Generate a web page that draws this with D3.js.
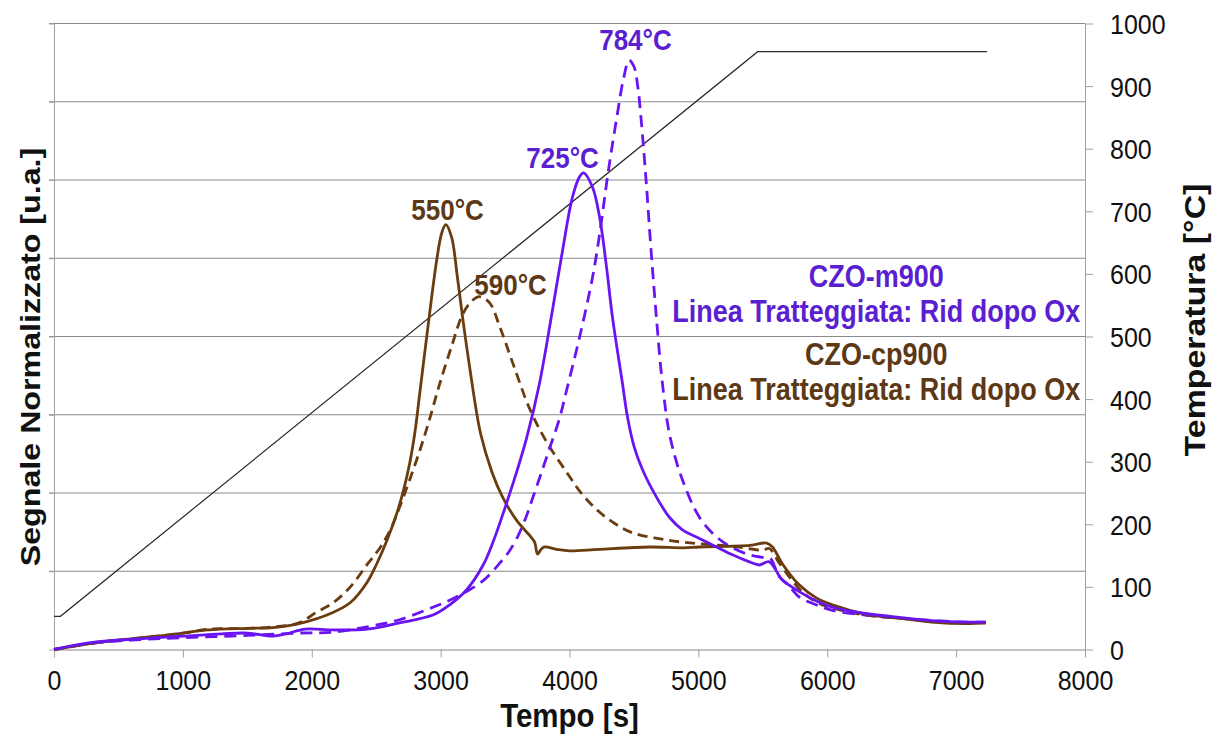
<!DOCTYPE html>
<html>
<head>
<meta charset="utf-8">
<script src="https://cdn.jsdelivr.net/npm/d3@7"></script>
<style>
  body { margin: 0; background: #fff; }
  text { font-family: Arial, "Liberation Sans", sans-serif; }
</style>
</head>
<body>
<svg id="chart" width="1216" height="737"></svg>
<script>
// axis ticks
var timeTicks = [0, 1000, 2000, 3000, 4000, 5000, 6000, 7000, 8000];
var tempTicks = [0, 100, 200, 300, 400, 500, 600, 700, 800, 900, 1000];
var signalTicks = [0, 1, 2, 3, 4, 5, 6, 7, 8];

// CZO-cp900, solid and dashed (Rid dopo Ox), [time s, signal u.a.]
var cpSolid = [[0,0],[250,0.07],[500,0.12],[800,0.17],[1000,0.21],[1200,0.25],[1500,0.27],[1700,0.28],
  [1900,0.33],[2160,0.47],[2300,0.60],[2430,0.86],[2500,1.08],[2580,1.38],[2660,1.74],[2710,2.02],
  [2760,2.38],[2800,2.77],[2840,3.3],[2915,4.3],[2970,4.98],[3008,5.32],[3040,5.43],[3085,5.27],
  [3130,4.76],[3170,4.25],[3225,3.61],[3310,2.76],[3400,2.26],[3480,1.95],[3590,1.65],[3700,1.44],
  [3730,1.37],[3752,1.22],[3780,1.28],[3806,1.31],[3900,1.28],[4000,1.26],[4230,1.28],[4620,1.31],
  [4880,1.30],[5010,1.31],[5400,1.33],[5530,1.36],[5575,1.31],[5650,1.1],[5780,0.83],[5915,0.66],
  [6040,0.57],[6300,0.45],[6560,0.40],[6810,0.35],[7080,0.33],[7230,0.34]];

var cpDashed = [[0,0],[250,0.07],[500,0.12],[800,0.17],[1000,0.21],[1200,0.26],[1500,0.27],[1700,0.29],
  [1900,0.34],[2040,0.48],[2160,0.59],[2300,0.80],[2436,1.1],[2530,1.3],[2610,1.53],[2682,1.82],
  [2760,2.17],[2840,2.55],[2910,2.92],[2990,3.38],[3090,3.9],[3170,4.28],[3240,4.45],[3300,4.51],
  [3380,4.43],[3460,4.12],[3560,3.66],[3690,3.08],[3820,2.66],[3980,2.26],[4100,1.98],[4230,1.76],
  [4360,1.60],[4490,1.49],[4750,1.40],[5010,1.35],[5260,1.32],[5500,1.27],[5550,1.29],[5630,1.1],
  [5780,0.78],[5900,0.62],[6040,0.53],[6300,0.44],[6560,0.40],[6810,0.36],[7080,0.34],[7230,0.34]];

// CZO-m900, solid and dashed
var mSolid = [[0,0],[300,0.09],[600,0.13],[1000,0.17],[1300,0.20],[1500,0.21],[1700,0.17],[1800,0.20],
  [1950,0.26],[2160,0.25],[2430,0.26],[2680,0.34],[2940,0.44],[3070,0.57],[3200,0.76],[3330,1.08],
  [3406,1.37],[3481,1.72],[3590,2.27],[3667,2.70],[3767,3.4],[3868,4.34],[3946,5.1],
  [4023,5.78],[4078,6.04],[4109,6.09],[4178,5.91],[4233,5.53],[4287,4.89],[4333,4.25],[4411,3.4],
  [4450,2.97],[4500,2.60],[4566,2.30],[4674,1.95],[4775,1.69],[4876,1.53],[5008,1.42],[5140,1.31],
  [5264,1.21],[5396,1.12],[5473,1.08],[5550,1.12],[5651,0.89],[5783,0.74],[5915,0.62],[6039,0.54],
  [6300,0.46],[6560,0.41],[6810,0.37],[7080,0.35],[7230,0.35]];

var mDashed = [[0,0],[300,0.08],[600,0.12],[1000,0.15],[1500,0.18],[1900,0.21],[2160,0.22],[2430,0.29],
  [2680,0.38],[2940,0.54],[3070,0.63],[3200,0.74],[3330,0.88],[3457,1.1],[3530,1.25],[3600,1.45],
  [3660,1.68],[3713,1.93],[3780,2.25],[3845,2.57],[3922,2.95],[3977,3.31],[4078,3.99],[4178,4.75],
  [4233,5.3],[4300,6.1],[4367,6.8],[4420,7.3],[4462,7.53],[4500,7.45],[4530,7.19],[4556,6.77],
  [4594,6.0],[4633,5.1],[4674,4.25],[4721,3.4],[4780,2.72],[4876,2.17],[5008,1.69],[5140,1.44],
  [5264,1.30],[5396,1.21],[5527,1.17],[5560,1.16],[5628,0.93],[5700,0.82],[5783,0.67],[5915,0.57],
  [6039,0.50],[6300,0.44],[6560,0.40],[6810,0.37],[7080,0.35],[7230,0.35]];

// temperature ramp [time s, °C]
var temperature = [[0,53],[50,53],[5460,955],[7240,955]];

// peak labels and notes [text, time, signal]
var peakLabels = [["550°C", 3054, 5.49], ["590°C", 3543, 4.53], ["725°C", 3946, 6.15], ["784°C", 4512, 7.66]];
var peakSeries = ["cp", "cp", "m", "m"];
var noteLines = [["CZO-m900", 6380, 4.63], ["Linea Tratteggiata: Rid dopo Ox", 6380, 4.18],
  ["CZO-cp900", 6380, 3.64], ["Linea Tratteggiata: Rid dopo Ox", 6380, 3.19]];
var noteSeries = ["m", "m", "cp", "cp"];

var lineColor = { cp: "#6b3c10", m: "#6a14f2" };
var textColor = { cp: "#5c3815", m: "#5a1fd0" };
var stretch = 1.13;

var svg = d3.select("#chart");
var plot = { left: 54, right: 1085, top: 23.5, bottom: 649.5 };

var x = d3.scaleLinear().domain([0, 8000]).range([plot.left, plot.right]);
var ySig = d3.scaleLinear().domain([0, 8]).range([plot.bottom, plot.top]);
var yTemp = d3.scaleLinear().domain([0, 1000]).range([plot.bottom, plot.top]);

// gridlines
svg.append("g")
    .selectAll("line")
    .data(signalTicks.slice(1))
    .enter()
  .append("line")
    .attr("x1", plot.left - 5)
    .attr("x2", plot.right)
    .attr("y1", d => ySig(d))
    .attr("y2", d => ySig(d))
    .attr("stroke", "#8a8a8a")
    .attr("stroke-width", 1);

// left axis (no labels)
svg.append("g")
    .attr("transform", "translate(" + plot.left + ",0)")
    .call(d3.axisLeft(ySig).tickValues(signalTicks).tickFormat("").tickSize(5).tickSizeOuter(0))
    .call(g => g.selectAll("line, path").attr("stroke", "#a0a0a0"));

// bottom axis
var xAxis = svg.append("g")
    .attr("transform", "translate(0," + plot.bottom + ")")
    .call(d3.axisBottom(x).tickValues(timeTicks).tickFormat(d3.format("d")).tickSize(8).tickSizeOuter(0));
xAxis.selectAll("line, path").attr("stroke", "#a0a0a0");
xAxis.select(".domain").attr("stroke", "#8a8a8a");
xAxis.selectAll("text")
    .attr("y", 40.5 / stretch)
    .attr("dy", 0)
    .attr("transform", "scale(1," + stretch + ")")
    .attr("fill", "#111")
    .style("font-size", "25px");

// right axis
var tAxis = svg.append("g")
    .attr("transform", "translate(" + plot.right + ",0)")
    .call(d3.axisRight(yTemp).tickValues(tempTicks).tickFormat(d3.format("d")).tickSize(8).tickSizeOuter(0));
tAxis.selectAll("line, path").attr("stroke", "#a0a0a0");
tAxis.selectAll("text")
    .attr("x", 25)
    .attr("y", 10 / stretch)
    .attr("dy", 0)
    .attr("transform", "scale(1," + stretch + ")")
    .attr("fill", "#111")
    .style("text-anchor", "start")
    .style("font-size", "25px");

// temperature line
svg.append("path")
    .datum(temperature)
    .attr("fill", "none")
    .attr("stroke", "#2a2a2a")
    .attr("stroke-width", 1.2)
    .attr("d", d3.line().x(d => x(d[0])).y(d => yTemp(d[1])));

var sigLine = d3.line()
    .curve(d3.curveCatmullRom.alpha(0.5))
    .x(d => x(d[0]))
    .y(d => ySig(d[1]));

var series = [
  { data: cpDashed, key: "cp", dash: "10,6" },
  { data: mDashed, key: "m", dash: "12,7" },
  { data: cpSolid, key: "cp", dash: null },
  { data: mSolid, key: "m", dash: null }
];

svg.append("g")
    .selectAll("path")
    .data(series)
    .enter()
  .append("path")
    .attr("fill", "none")
    .attr("stroke", d => lineColor[d.key])
    .attr("stroke-width", 2.8)
    .attr("stroke-dasharray", d => d.dash)
    .attr("d", d => sigLine(d.data));

function stretchedText(sel, px, py, rotate) {
  sel.attr("transform", "translate(" + px + "," + py + ") scale(1," + stretch + ")" + (rotate ? " rotate(-90)" : ""));
}

// peak labels
svg.append("g")
    .selectAll("text")
    .data(peakLabels)
    .enter()
  .append("text")
    .text(d => d[0])
    .attr("fill", (d, i) => textColor[peakSeries[i]])
    .style("font-size", "26px")
    .style("font-weight", "bold")
    .style("text-anchor", "middle")
    .each(function(d) { stretchedText(d3.select(this), x(d[1]), ySig(d[2])); });

// notes
svg.append("g")
    .selectAll("text")
    .data(noteLines)
    .enter()
  .append("text")
    .text(d => d[0])
    .attr("fill", (d, i) => textColor[noteSeries[i]])
    .style("font-size", "27px")
    .style("font-weight", "bold")
    .style("text-anchor", "middle")
    .each(function(d) { stretchedText(d3.select(this), x(d[1]), ySig(d[2])); });

// axis titles
svg.append("text")
    .text("Tempo [s]")
    .attr("fill", "#111")
    .style("font-size", "29.5px")
    .style("font-weight", "bold")
    .style("text-anchor", "middle")
    .call(stretchedText, (plot.left + plot.right) / 2, 727);

svg.append("text")
    .text("Segnale Normalizzato [u.a.]")
    .attr("fill", "#111")
    .style("font-size", "28.5px")
    .style("font-weight", "bold")
    .style("text-anchor", "middle")
    .call(stretchedText, 40, 357, true);

svg.append("text")
    .text("Temperatura [°C]")
    .attr("fill", "#111")
    .style("font-size", "30px")
    .style("font-weight", "bold")
    .style("text-anchor", "middle")
    .call(stretchedText, 1205, 320, true);
</script>
</body>
</html>
